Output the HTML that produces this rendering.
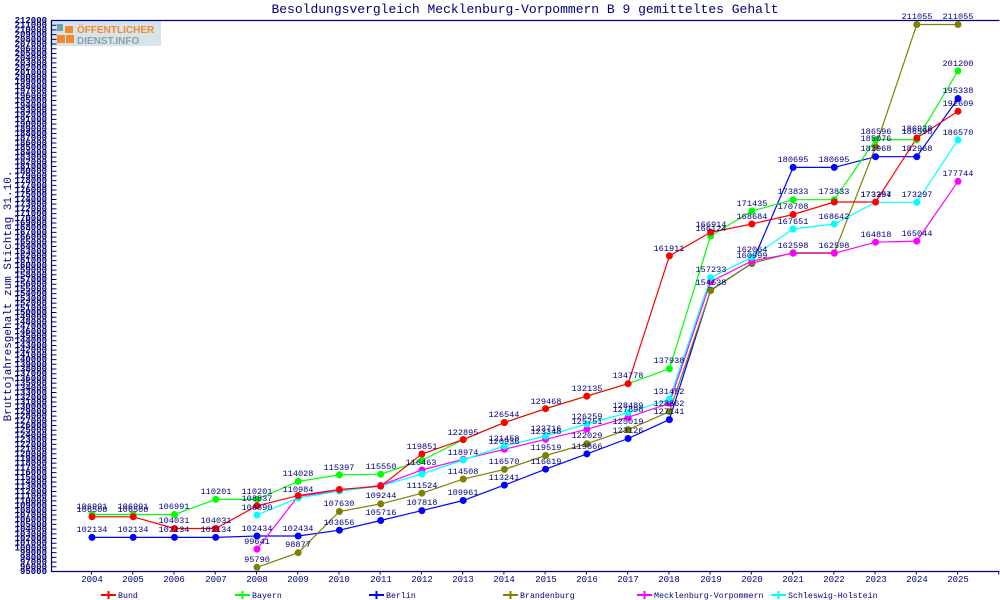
<!DOCTYPE html>
<html><head><meta charset="utf-8"><style>
body{margin:0;background:#fff}
svg{display:block}
text{font-family:"Liberation Mono","DejaVu Sans Mono",monospace;fill:#000080}
.l{font-size:8.6px;text-anchor:middle}
</style></head><body>
<svg width="1000" height="600" viewBox="0 0 1000 600">
<rect width="1000" height="600" fill="#fff"/>
<text x="525" y="13" font-size="13" text-anchor="middle">Besoldungsvergleich Mecklenburg-Vorpommern B 9 gemitteltes Gehalt</text>
<text transform="translate(11,296) rotate(-90)" font-size="11" text-anchor="middle">Bruttojahresgehalt zum Stichtag 31.10.</text>
<!-- logo -->
<rect x="50" y="21" width="111" height="25" fill="#d8e4ea"/>
<rect x="57" y="24" width="6" height="7" fill="#6aa3b5"/>
<rect x="65" y="26" width="8" height="7" fill="#f08a2a"/><rect x="57" y="35" width="8" height="8" fill="#f08a2a"/><rect x="66" y="35" width="8" height="8" fill="#f08a2a"/>
<text x="77" y="33" font-size="10" font-weight="bold" style="fill:#f08a2a;font-family:'Liberation Sans',sans-serif">ÖFFENTLICHER</text>
<text x="77" y="44" font-size="10" font-weight="bold" style="fill:#8aa0ac;font-family:'Liberation Sans',sans-serif">DIENST.INFO</text>
<!-- axes -->
<path d="M51.5 20.5H999.5M51.5 20V571.5H999.5" fill="none" stroke="#000080" stroke-width="1.2"/>
<line x1="54" y1="20" x2="54" y2="572" stroke="#000080" stroke-width="5" stroke-dasharray="1 3.7094"/>
<line x1="51" y1="573" x2="1000" y2="573" stroke="#000080" stroke-width="3" stroke-dasharray="1 40.24" stroke-dashoffset="-40"/>
<text font-size="9" text-anchor="end" font-weight="bold"><tspan x="47" y="23">212000</tspan><tspan x="47" dy="4.7094">211000</tspan><tspan x="47" dy="4.7094">210000</tspan><tspan x="47" dy="4.7094">209000</tspan><tspan x="47" dy="4.7094">208000</tspan><tspan x="47" dy="4.7094">207000</tspan><tspan x="47" dy="4.7094">206000</tspan><tspan x="47" dy="4.7094">205000</tspan><tspan x="47" dy="4.7094">204000</tspan><tspan x="47" dy="4.7094">203000</tspan><tspan x="47" dy="4.7094">202000</tspan><tspan x="47" dy="4.7094">201000</tspan><tspan x="47" dy="4.7094">200000</tspan><tspan x="47" dy="4.7094">199000</tspan><tspan x="47" dy="4.7094">198000</tspan><tspan x="47" dy="4.7094">197000</tspan><tspan x="47" dy="4.7094">196000</tspan><tspan x="47" dy="4.7094">195000</tspan><tspan x="47" dy="4.7094">194000</tspan><tspan x="47" dy="4.7094">193000</tspan><tspan x="47" dy="4.7094">192000</tspan><tspan x="47" dy="4.7094">191000</tspan><tspan x="47" dy="4.7094">190000</tspan><tspan x="47" dy="4.7094">189000</tspan><tspan x="47" dy="4.7094">188000</tspan><tspan x="47" dy="4.7094">187000</tspan><tspan x="47" dy="4.7094">186000</tspan><tspan x="47" dy="4.7094">185000</tspan><tspan x="47" dy="4.7094">184000</tspan><tspan x="47" dy="4.7094">183000</tspan><tspan x="47" dy="4.7094">182000</tspan><tspan x="47" dy="4.7094">181000</tspan><tspan x="47" dy="4.7094">180000</tspan><tspan x="47" dy="4.7094">179000</tspan><tspan x="47" dy="4.7094">178000</tspan><tspan x="47" dy="4.7094">177000</tspan><tspan x="47" dy="4.7094">176000</tspan><tspan x="47" dy="4.7094">175000</tspan><tspan x="47" dy="4.7094">174000</tspan><tspan x="47" dy="4.7094">173000</tspan><tspan x="47" dy="4.7094">172000</tspan><tspan x="47" dy="4.7094">171000</tspan><tspan x="47" dy="4.7094">170000</tspan><tspan x="47" dy="4.7094">169000</tspan><tspan x="47" dy="4.7094">168000</tspan><tspan x="47" dy="4.7094">167000</tspan><tspan x="47" dy="4.7094">166000</tspan><tspan x="47" dy="4.7094">165000</tspan><tspan x="47" dy="4.7094">164000</tspan><tspan x="47" dy="4.7094">163000</tspan><tspan x="47" dy="4.7094">162000</tspan><tspan x="47" dy="4.7094">161000</tspan><tspan x="47" dy="4.7094">160000</tspan><tspan x="47" dy="4.7094">159000</tspan><tspan x="47" dy="4.7094">158000</tspan><tspan x="47" dy="4.7094">157000</tspan><tspan x="47" dy="4.7094">156000</tspan><tspan x="47" dy="4.7094">155000</tspan><tspan x="47" dy="4.7094">154000</tspan><tspan x="47" dy="4.7094">153000</tspan><tspan x="47" dy="4.7094">152000</tspan><tspan x="47" dy="4.7094">151000</tspan><tspan x="47" dy="4.7094">150000</tspan><tspan x="47" dy="4.7094">149000</tspan><tspan x="47" dy="4.7094">148000</tspan><tspan x="47" dy="4.7094">147000</tspan><tspan x="47" dy="4.7094">146000</tspan><tspan x="47" dy="4.7094">145000</tspan><tspan x="47" dy="4.7094">144000</tspan><tspan x="47" dy="4.7094">143000</tspan><tspan x="47" dy="4.7094">142000</tspan><tspan x="47" dy="4.7094">141000</tspan><tspan x="47" dy="4.7094">140000</tspan><tspan x="47" dy="4.7094">139000</tspan><tspan x="47" dy="4.7094">138000</tspan><tspan x="47" dy="4.7094">137000</tspan><tspan x="47" dy="4.7094">136000</tspan><tspan x="47" dy="4.7094">135000</tspan><tspan x="47" dy="4.7094">134000</tspan><tspan x="47" dy="4.7094">133000</tspan><tspan x="47" dy="4.7094">132000</tspan><tspan x="47" dy="4.7094">131000</tspan><tspan x="47" dy="4.7094">130000</tspan><tspan x="47" dy="4.7094">129000</tspan><tspan x="47" dy="4.7094">128000</tspan><tspan x="47" dy="4.7094">127000</tspan><tspan x="47" dy="4.7094">126000</tspan><tspan x="47" dy="4.7094">125000</tspan><tspan x="47" dy="4.7094">124000</tspan><tspan x="47" dy="4.7094">123000</tspan><tspan x="47" dy="4.7094">122000</tspan><tspan x="47" dy="4.7094">121000</tspan><tspan x="47" dy="4.7094">120000</tspan><tspan x="47" dy="4.7094">119000</tspan><tspan x="47" dy="4.7094">118000</tspan><tspan x="47" dy="4.7094">117000</tspan><tspan x="47" dy="4.7094">116000</tspan><tspan x="47" dy="4.7094">115000</tspan><tspan x="47" dy="4.7094">114000</tspan><tspan x="47" dy="4.7094">113000</tspan><tspan x="47" dy="4.7094">112000</tspan><tspan x="47" dy="4.7094">111000</tspan><tspan x="47" dy="4.7094">110000</tspan><tspan x="47" dy="4.7094">109000</tspan><tspan x="47" dy="4.7094">108000</tspan><tspan x="47" dy="4.7094">107000</tspan><tspan x="47" dy="4.7094">106000</tspan><tspan x="47" dy="4.7094">105000</tspan><tspan x="47" dy="4.7094">104000</tspan><tspan x="47" dy="4.7094">103000</tspan><tspan x="47" dy="4.7094">102000</tspan><tspan x="47" dy="4.7094">101000</tspan><tspan x="47" dy="4.7094">100000</tspan><tspan x="47" dy="4.7094">99000</tspan><tspan x="47" dy="4.7094">98000</tspan><tspan x="47" dy="4.7094">97000</tspan><tspan x="47" dy="4.7094">96000</tspan><tspan x="47" dy="4.7094">95000</tspan></text>
<!-- x labels -->
<g font-size="9" text-anchor="middle">
<text x="92" y="582">2004</text><text x="133" y="582">2005</text><text x="174" y="582">2006</text><text x="216" y="582">2007</text><text x="257" y="582">2008</text><text x="298" y="582">2009</text><text x="339" y="582">2010</text><text x="381" y="582">2011</text><text x="422" y="582">2012</text><text x="463" y="582">2013</text><text x="504" y="582">2014</text><text x="546" y="582">2015</text><text x="587" y="582">2016</text><text x="628" y="582">2017</text><text x="669" y="582">2018</text><text x="711" y="582">2019</text><text x="752" y="582">2020</text><text x="793" y="582">2021</text><text x="834" y="582">2022</text><text x="876" y="582">2023</text><text x="917" y="582">2024</text><text x="958" y="582">2025</text>
</g>
<g fill="none" stroke-width="1.2">
<polyline stroke="#0000ff" points="92,537.4 133.2,537.4 174.5,537.4 215.7,537.4 257,536 298.2,536 339.4,530.2 380.7,520.5 421.9,510.6 463.2,500.5 504.4,485.1 545.6,469.2 586.9,453.9 628.1,438.5 669.4,419.6 710.6,290.3 751.8,263.5 793.1,167.4 834.3,167.4 875.6,156.7 916.8,156.7 958,98.5"/>
<polyline stroke="#808000" points="257,567.3 298.2,552.7 339.4,511.5 380.7,503.9 421.9,493.2 463.2,479.1 504.4,469.4 545.6,455.5 586.9,443.7 628.1,429.6 669.4,411.7 710.6,290.7 751.8,263.3 793.1,252.7 834.3,252.7 875.6,146.8 916.8,24.5 958,24.5"/>
<polyline stroke="#ff00ff" points="257,549.1 298.2,496.1 339.4,490.9 380.7,485.3 421.9,470 463.2,459.3 504.4,449.3 545.6,439.3 586.9,429.3 628.1,417.3 669.4,403.3 710.6,281.7 751.8,261 793.1,253.3 834.3,253.3 875.6,242.2 916.8,241.1 958,181.3"/>
<polyline stroke="#00ffff" points="257,515 298.2,498 339.4,491 380.7,486 421.9,474 463.2,460 504.4,446 545.6,436 586.9,424 628.1,412.7 669.4,399.3 710.6,277.7 751.8,257.3 793.1,229 834.3,224 875.6,202.3 916.8,202.3 958,139.8"/>
<polyline stroke="#00ff00" points="92,514.5 133.2,514.5 174.5,514.5 215.7,499.4 257,499.4 298.2,481.4 339.4,474.9 380.7,474.2 421.9,460.5 463.2,439.6 504.4,422.4 545.6,408.7 586.9,396.1 628.1,383.7 669.4,368.8 710.6,236 751.8,211 793.1,199.7 834.3,199.7 875.6,139.6 916.8,139.6 958,70.9"/>
<polyline stroke="#ff0000" points="92,516.8 133.2,516.8 174.5,528.5 215.7,528.5 257,505.8 298.2,495.6 339.4,489.5 380.7,486.2 421.9,454 463.2,439.6 504.4,422.6 545.6,408.7 586.9,396.1 628.1,383.7 669.4,255.9 710.6,232.3 751.8,224 793.1,214.5 834.3,202 875.6,202 916.8,138 958,111.3"/>
</g>
<g stroke-linecap="round" stroke-width="7" fill="none">
<path stroke="#0000ff" d="M92,537.4h0M133.2,537.4h0M174.5,537.4h0M215.7,537.4h0M257,536h0M298.2,536h0M339.4,530.2h0M380.7,520.5h0M421.9,510.6h0M463.2,500.5h0M504.4,485.1h0M545.6,469.2h0M586.9,453.9h0M628.1,438.5h0M669.4,419.6h0M710.6,290.3h0M751.8,263.5h0M793.1,167.4h0M834.3,167.4h0M875.6,156.7h0M916.8,156.7h0M958,98.5h0"/>
<path stroke="#808000" d="M257,567.3h0M298.2,552.7h0M339.4,511.5h0M380.7,503.9h0M421.9,493.2h0M463.2,479.1h0M504.4,469.4h0M545.6,455.5h0M586.9,443.7h0M628.1,429.6h0M669.4,411.7h0M710.6,290.7h0M751.8,263.3h0M793.1,252.7h0M834.3,252.7h0M875.6,146.8h0M916.8,24.5h0M958,24.5h0"/>
<path stroke="#ff00ff" d="M257,549.1h0M298.2,496.1h0M339.4,490.9h0M380.7,485.3h0M421.9,470h0M463.2,459.3h0M504.4,449.3h0M545.6,439.3h0M586.9,429.3h0M628.1,417.3h0M669.4,403.3h0M710.6,281.7h0M751.8,261h0M793.1,253.3h0M834.3,253.3h0M875.6,242.2h0M916.8,241.1h0M958,181.3h0"/>
<path stroke="#00ffff" d="M257,515h0M298.2,498h0M339.4,491h0M380.7,486h0M421.9,474h0M463.2,460h0M504.4,446h0M545.6,436h0M586.9,424h0M628.1,412.7h0M669.4,399.3h0M710.6,277.7h0M751.8,257.3h0M793.1,229h0M834.3,224h0M875.6,202.3h0M916.8,202.3h0M958,139.8h0"/>
<path stroke="#00ff00" d="M92,514.5h0M133.2,514.5h0M174.5,514.5h0M215.7,499.4h0M257,499.4h0M298.2,481.4h0M339.4,474.9h0M380.7,474.2h0M421.9,460.5h0M463.2,439.6h0M504.4,422.4h0M545.6,408.7h0M586.9,396.1h0M628.1,383.7h0M669.4,368.8h0M710.6,236h0M751.8,211h0M793.1,199.7h0M834.3,199.7h0M875.6,139.6h0M916.8,139.6h0M958,70.9h0"/>
<path stroke="#ff0000" d="M92,516.8h0M133.2,516.8h0M174.5,528.5h0M215.7,528.5h0M257,505.8h0M298.2,495.6h0M339.4,489.5h0M380.7,486.2h0M421.9,454h0M463.2,439.6h0M504.4,422.6h0M545.6,408.7h0M586.9,396.1h0M628.1,383.7h0M669.4,255.9h0M710.6,232.3h0M751.8,224h0M793.1,214.5h0M834.3,202h0M875.6,202h0M916.8,138h0M958,111.3h0"/>
</g>
<g>
<text class="l" x="92" y="532">102134</text><text class="l" x="133" y="532">102134</text><text class="l" x="174" y="532">102134</text><text class="l" x="216" y="532">102134</text><text class="l" x="257" y="531">102434</text><text class="l" x="298" y="531">102434</text><text class="l" x="339" y="525">103656</text><text class="l" x="381" y="515">105716</text><text class="l" x="422" y="505">107818</text><text class="l" x="463" y="495">109961</text><text class="l" x="504" y="480">113241</text><text class="l" x="546" y="464">116619</text><text class="l" x="587" y="449">119866</text><text class="l" x="628" y="433">123126</text><text class="l" x="669" y="414">127141</text><text class="l" x="711" y="285">154638</text><text class="l" x="752" y="258">160999</text><text class="l" x="793" y="162">180695</text><text class="l" x="834" y="162">180695</text><text class="l" x="876" y="151">182968</text><text class="l" x="917" y="151">182968</text><text class="l" x="958" y="93">195338</text>
<text class="l" x="257" y="562">95790</text><text class="l" x="298" y="547">98877</text><text class="l" x="339" y="506">107630</text><text class="l" x="381" y="498">109244</text><text class="l" x="422" y="488">111524</text><text class="l" x="463" y="474">114508</text><text class="l" x="504" y="464">116570</text><text class="l" x="546" y="450">119519</text><text class="l" x="587" y="438">122029</text><text class="l" x="628" y="424">125019</text><text class="l" x="669" y="406">128862</text><text class="l" x="876" y="141">185076</text><text class="l" x="917" y="19">211055</text><text class="l" x="958" y="19">211055</text>
<text class="l" x="257" y="544">99641</text><text class="l" x="421" y="465">116463</text><text class="l" x="504" y="444">120936</text><text class="l" x="546" y="434">123348</text><text class="l" x="587" y="424">125751</text><text class="l" x="628" y="412">127898</text><text class="l" x="793" y="248">162598</text><text class="l" x="834" y="248">162598</text><text class="l" x="876" y="237">164818</text><text class="l" x="917" y="236">165044</text><text class="l" x="958" y="176">177744</text>
<text class="l" x="257" y="510">106890</text><text class="l" x="298" y="492">110984</text><text class="l" x="463" y="455">118974</text><text class="l" x="504" y="441">121458</text><text class="l" x="546" y="431">123716</text><text class="l" x="587" y="419">126259</text><text class="l" x="628" y="408">128489</text><text class="l" x="669" y="394">131452</text><text class="l" x="711" y="272">157233</text><text class="l" x="752" y="252">162064</text><text class="l" x="793" y="224">167651</text><text class="l" x="834" y="219">168642</text><text class="l" x="876" y="197">173297</text><text class="l" x="917" y="197">173297</text><text class="l" x="958" y="135">186570</text>
<text class="l" x="92" y="509">106991</text><text class="l" x="133" y="509">106991</text><text class="l" x="174" y="509">106991</text><text class="l" x="216" y="494">110201</text><text class="l" x="257" y="494">110201</text><text class="l" x="298" y="476">114028</text><text class="l" x="339" y="470">115397</text><text class="l" x="381" y="469">115550</text><text class="l" x="463" y="435">122895</text><text class="l" x="504" y="417">126544</text><text class="l" x="546" y="404">129468</text><text class="l" x="587" y="391">132135</text><text class="l" x="628" y="378">134778</text><text class="l" x="669" y="363">137938</text><text class="l" x="711" y="231">166124</text><text class="l" x="752" y="206">171435</text><text class="l" x="793" y="194">173833</text><text class="l" x="834" y="194">173833</text><text class="l" x="876" y="134">186596</text><text class="l" x="917" y="134">186598</text><text class="l" x="958" y="66">201200</text>
<text class="l" x="92" y="512">106508</text><text class="l" x="133" y="512">106508</text><text class="l" x="174" y="523">104031</text><text class="l" x="216" y="523">104031</text><text class="l" x="257" y="501">108837</text><text class="l" x="422" y="449">119851</text><text class="l" x="669" y="251">161911</text><text class="l" x="711" y="227">166914</text><text class="l" x="752" y="219">168684</text><text class="l" x="793" y="209">170708</text><text class="l" x="876" y="197">173354</text><text class="l" x="917" y="131">186938</text><text class="l" x="958" y="106">192609</text>
</g>
<!-- legend -->
<g stroke-width="2">
<line x1="101" y1="595" x2="116" y2="595" stroke="#ff0000"/><line x1="108.5" y1="591" x2="108.5" y2="599" stroke="#ff0000"/>
<line x1="235" y1="595" x2="250" y2="595" stroke="#00ff00"/><line x1="242.5" y1="591" x2="242.5" y2="599" stroke="#00ff00"/>
<line x1="369" y1="595" x2="384" y2="595" stroke="#0000ff"/><line x1="376.5" y1="591" x2="376.5" y2="599" stroke="#0000ff"/>
<line x1="503" y1="595" x2="518" y2="595" stroke="#808000"/><line x1="510.5" y1="591" x2="510.5" y2="599" stroke="#808000"/>
<line x1="637" y1="595" x2="652" y2="595" stroke="#ff00ff"/><line x1="644.5" y1="591" x2="644.5" y2="599" stroke="#ff00ff"/>
<line x1="771" y1="595" x2="786" y2="595" stroke="#00ffff"/><line x1="778.5" y1="591" x2="778.5" y2="599" stroke="#00ffff"/>
</g>
<g font-size="8.3">
<text x="118" y="598">Bund</text><text x="252" y="598">Bayern</text><text x="386" y="598">Berlin</text><text x="520" y="598">Brandenburg</text><text x="654" y="598">Mecklenburg-Vorpommern</text><text x="788" y="598">Schleswig-Holstein</text>
</g>
</svg>
</body></html>
